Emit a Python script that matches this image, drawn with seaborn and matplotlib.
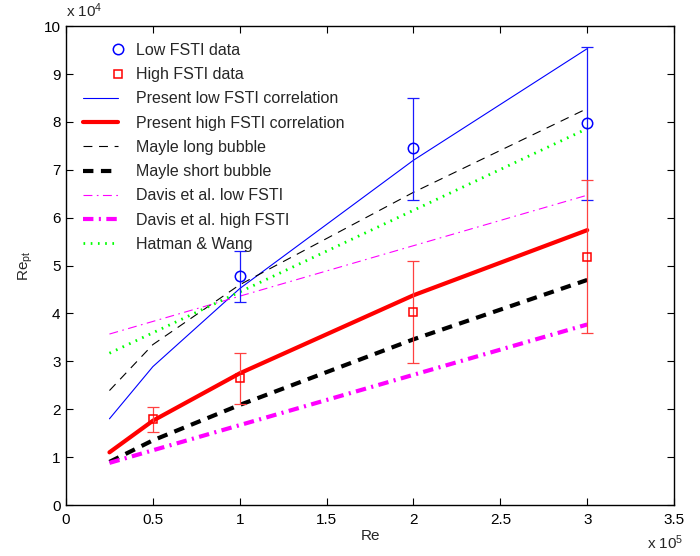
import numpy as np
import pandas as pd
import matplotlib
matplotlib.use("Agg")
import matplotlib.pyplot as plt
from matplotlib.legend_handler import HandlerLine2D
import seaborn as sns

# ---- data (Re in units of 1e5, Re_pt in units of 1e4) ----
low_x = [1.0, 2.0, 3.0]
low_y = [4.78, 7.45, 7.97]
low_err_lo = [0.54, 1.08, 1.60]
low_err_hi = [0.53, 1.05, 1.60]

high_x = [0.5, 1.0, 2.0, 3.0]
high_y = [1.80, 2.66, 4.04, 5.18]
high_err_lo = [0.28, 0.55, 1.07, 1.58]
high_err_hi = [0.25, 0.51, 1.05, 1.60]

corr_x = [0.25, 0.5, 1.0, 2.0, 3.0]
present_low = [1.80, 2.89, 4.52, 7.20, 9.53]
present_high = [1.10, 1.76, 2.75, 4.38, 5.74]
mayle_long = [2.39, 3.35, 4.60, 6.53, 8.28]
mayle_short = [0.90, 1.35, 2.09, 3.46, 4.70]

lin_x = [0.25, 3.0]
davis_low = [3.57, 6.47]
davis_high = [0.88, 3.77]
hatman_wang = [3.17, 7.86]

xticks = [0, 0.5, 1, 1.5, 2, 2.5, 3, 3.5]
yticks = list(range(0, 11))

FS = 11
LFS = 11.5

sns.set_theme(style="ticks")
plt.rcParams["font.family"] = ["Liberation Sans", "DejaVu Sans"]
plt.rcParams["mathtext.fontset"] = "custom"
plt.rcParams["mathtext.rm"] = "Liberation Sans"
plt.rcParams["mathtext.it"] = "Liberation Sans"
plt.rcParams["xtick.direction"] = "in"
plt.rcParams["ytick.direction"] = "in"


class RightMarkerHandler(HandlerLine2D):
    """Place the single legend marker at the right end of the sample."""
    def get_numpoints(self, legend):
        return 2

    def get_xdata(self, legend, xdescent, ydescent, width, height, fontsize):
        x = [-xdescent + width]
        return x, x


fig = plt.figure(figsize=(7.0, 5.56), dpi=100)
ax = fig.add_axes([0.0943, 0.0917, 0.963 - 0.0943, 0.953 - 0.0917])

# data with error bars
ax.errorbar(low_x, low_y, yerr=[low_err_lo, low_err_hi], fmt="none",
            ecolor=(0.1, 0.1, 1.0), elinewidth=0.9, capsize=4.5, capthick=0.9,
            zorder=3)
ax.errorbar(high_x, high_y, yerr=[high_err_lo, high_err_hi], fmt="none",
            ecolor=(1.0, 0.25, 0.25), elinewidth=0.9, capsize=4.5, capthick=0.9,
            zorder=3)

handles = []
df = pd.DataFrame({"x": low_x, "y": low_y})
sns.lineplot(data=df, x="x", y="y", ax=ax, linestyle="", marker="o",
             markersize=7.5, markerfacecolor="none", markeredgecolor="blue",
             markeredgewidth=1.1, color="blue", estimator=None, sort=False,
             zorder=4)
handles.append((ax.lines[-1], "Low FSTI data"))
df = pd.DataFrame({"x": high_x, "y": high_y})
sns.lineplot(data=df, x="x", y="y", ax=ax, linestyle="", marker="s",
             markersize=5.5, markerfacecolor="none", markeredgecolor="red",
             markeredgewidth=1.1, color="red", estimator=None, sort=False,
             zorder=4)
handles.append((ax.lines[-1], "High FSTI data"))

series = [
    (corr_x, present_low, "Present low FSTI correlation", "blue", 0.8, "-"),
    (corr_x, present_high, "Present high FSTI correlation", "red", 3.0, "-"),
    (corr_x, mayle_long, "Mayle long bubble", "black", 0.8, (0, (8, 6))),
    (corr_x, mayle_short, "Mayle short bubble", "black", 3.0, (0, (2.5, 1.8))),
    (lin_x, davis_low, "Davis et al. low FSTI", "magenta", 0.8, (0, (8, 4, 1.5, 4))),
    (lin_x, davis_high, "Davis et al. high FSTI", "magenta", 3.0, (0, (2.5, 1.3, 0.5, 1.3))),
    (lin_x, hatman_wang, "Hatman & Wang", "#00ff00", 2.0, (0, (0.6, 2.0))),
]
for xs, ys, lab, col, lw, ls in series:
    d = pd.DataFrame({"x": xs, "y": ys})
    sns.lineplot(data=d, x="x", y="y", ax=ax, color=col, linewidth=lw,
                 linestyle=ls, estimator=None, sort=False, zorder=2)
    handles.append((ax.lines[-1], lab))

ax.set_xlim(0, 3.5)
ax.set_ylim(0, 10)
ax.set_xticks(xticks)
ax.set_xticklabels([f"{t:g}" for t in xticks])
ax.set_yticks(yticks)
ax.set_yticklabels([str(t) for t in yticks])
ax.tick_params(axis="both", which="both", top=True, right=True, direction="in",
               labelsize=FS, length=5, width=0.8, colors="black", pad=4)
ax.tick_params(axis="x", pad=6)
for s in ax.spines.values():
    s.set_visible(True)
    s.set_linewidth(1.0)
    s.set_color("black")

ax.set_xlabel("Re", fontsize=FS, labelpad=1)
ax.set_ylabel("Re$_{\\mathrm{pt}}$", fontsize=FS, labelpad=6)
ax.text(0.0, 1.012, "x 10$^{4}$", transform=ax.transAxes, fontsize=FS,
        ha="left", va="bottom")
ax.text(683 / 700, 4 / 556, "x 10$^{5}$", transform=fig.transFigure,
        fontsize=FS, ha="right", va="bottom")

leg = ax.legend([h for h, _ in handles], [l for _, l in handles],
                loc="upper left", bbox_to_anchor=(0.012, 0.985), frameon=False,
                fontsize=LFS, handlelength=2.2, handletextpad=1.13,
                labelspacing=0.58, borderaxespad=0.2,
                handler_map={handles[0][0]: RightMarkerHandler(),
                             handles[1][0]: RightMarkerHandler()})

fig.savefig("out.png", dpi=100)
